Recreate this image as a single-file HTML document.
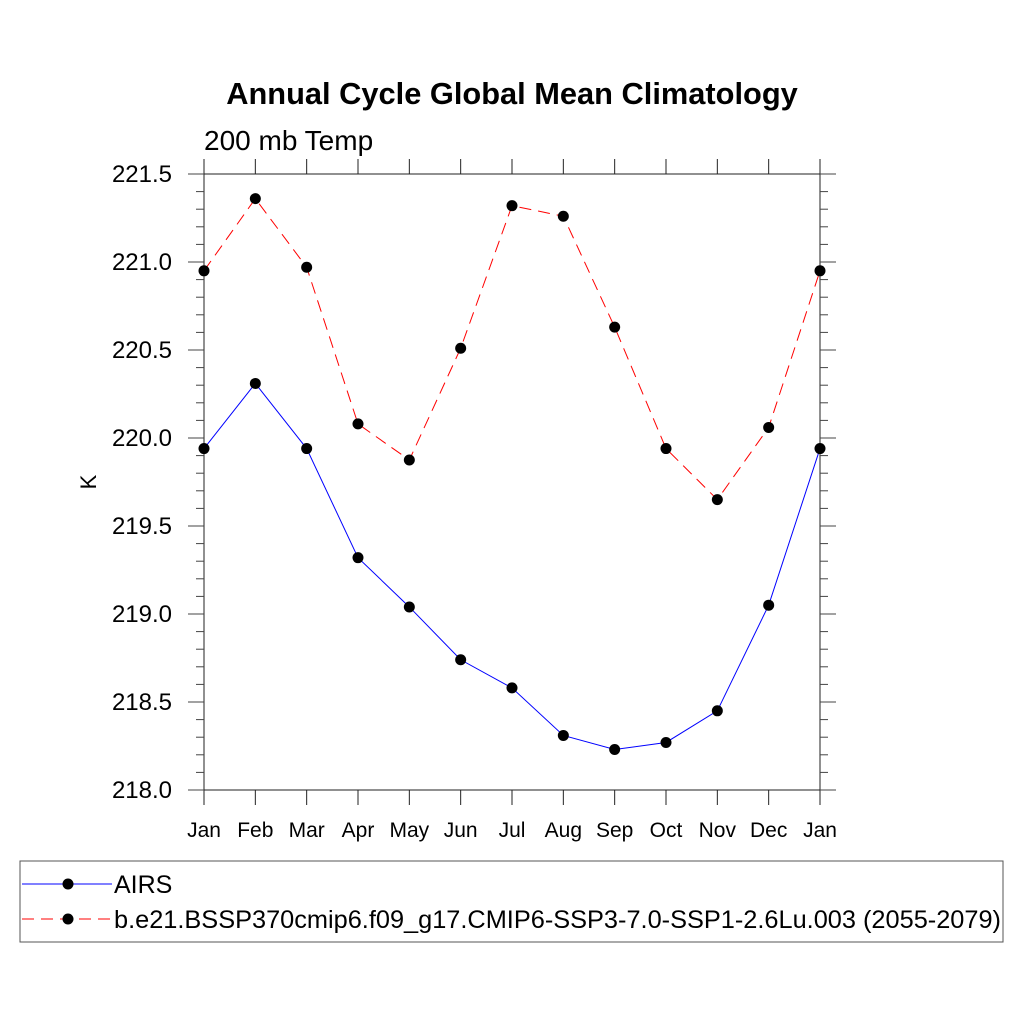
<!DOCTYPE html>
<html><head><meta charset="utf-8"><style>
body{margin:0;background:#fff;}
svg{display:block;font-family:"Liberation Sans",sans-serif;}
</style></head><body>
<svg id="chart" width="1024" height="1024">
<text x="512" y="104" text-anchor="middle" font-size="30.8" font-weight="bold">Annual Cycle Global Mean Climatology</text>
<text x="204" y="150" font-size="28">200 mb Temp</text>
<text transform="translate(96,482) rotate(-90)" text-anchor="middle" font-size="22">K</text>
<g id="axes"></g>
<g id="series"></g>
<rect x="20" y="861" width="983" height="81" fill="none" stroke="#555" stroke-width="1"/>
<g>
<line x1="22" y1="884" x2="112" y2="884" stroke="#00f" stroke-width="1"/>
<circle cx="68" cy="884" r="5.5" fill="#000"/>
<text x="114" y="893" font-size="25">AIRS</text>
</g>
<g>
<line x1="22" y1="919" x2="112" y2="919" stroke="#f00" stroke-width="1" stroke-dasharray="12,7"/>
<circle cx="68" cy="919" r="5.5" fill="#000"/>
<text x="114" y="928" font-size="25" textLength="887" lengthAdjust="spacingAndGlyphs">b.e21.BSSP370cmip6.f09_g17.CMIP6-SSP3-7.0-SSP1-2.6Lu.003 (2055-2079)</text>
</g>
</svg>
<script>
const months=["Jan","Feb","Mar","Apr","May","Jun","Jul","Aug","Sep","Oct","Nov","Dec","Jan"];
const airs=[219.94,220.31,219.94,219.32,219.04,218.74,218.58,218.31,218.23,218.27,218.45,219.05,219.94];
const model=[220.95,221.36,220.97,220.08,219.875,220.51,221.32,221.26,220.63,219.94,219.65,220.06,220.95];
const yTicks=[218.0,218.5,219.0,219.5,220.0,220.5,221.0,221.5];
const X0=204,X1=820,Y0=790,Y1=174,YMIN=218,YMAX=221.5;
const xs=i=>X0+(X1-X0)*i/(months.length-1);
const ys=v=>Y0-(v-YMIN)/(YMAX-YMIN)*(Y0-Y1);
const NS="http://www.w3.org/2000/svg";
function mk(t,a,p){const e=document.createElementNS(NS,t);for(const k in a)e.setAttribute(k,a[k]);p.appendChild(e);return e;}
const ax=document.getElementById('axes');
const fr=mk('rect',{x:X0,y:Y1,width:X1-X0,height:Y0-Y1,fill:'none',stroke:'#222','stroke-width':1},ax);


months.forEach((m,i)=>{const x=xs(i);
mk('line',{x1:x,y1:Y0,x2:x,y2:Y0+15,stroke:'#222'},ax);
mk('line',{x1:x,y1:Y1,x2:x,y2:Y1-15,stroke:'#222'},ax);
const t=mk('text',{x:x,y:Y0+47,'text-anchor':'middle','font-size':21},ax);t.textContent=m;

});
for(let k=0;k<=35;k++){const v=YMIN+k*0.1,y=ys(v),maj=k%5===0,L=maj?16:8;
mk('line',{x1:X0,y1:y,x2:X0-L,y2:y,stroke:'#444'},ax);
mk('line',{x1:X1,y1:y,x2:X1+L,y2:y,stroke:'#444'},ax);}
yTicks.forEach(v=>{const t=mk('text',{x:172,y:ys(v)+8,'text-anchor':'end','font-size':24},ax);t.textContent=v.toFixed(1);

});
const sg=document.getElementById('series');
function draw(vals,col,dash,name){
const p=mk('polyline',{points:vals.map((v,i)=>xs(i)+','+ys(v)).join(' '),fill:'none',stroke:col,'stroke-width':1,'stroke-dasharray':dash},sg);


vals.forEach((v,i)=>{const c=mk('circle',{cx:xs(i),cy:ys(v),r:5.5,fill:'#000'},sg);

});}
draw(model,'#f00','12,7','model');
draw(airs,'#00f','none','airs');
</script>
</body></html>
